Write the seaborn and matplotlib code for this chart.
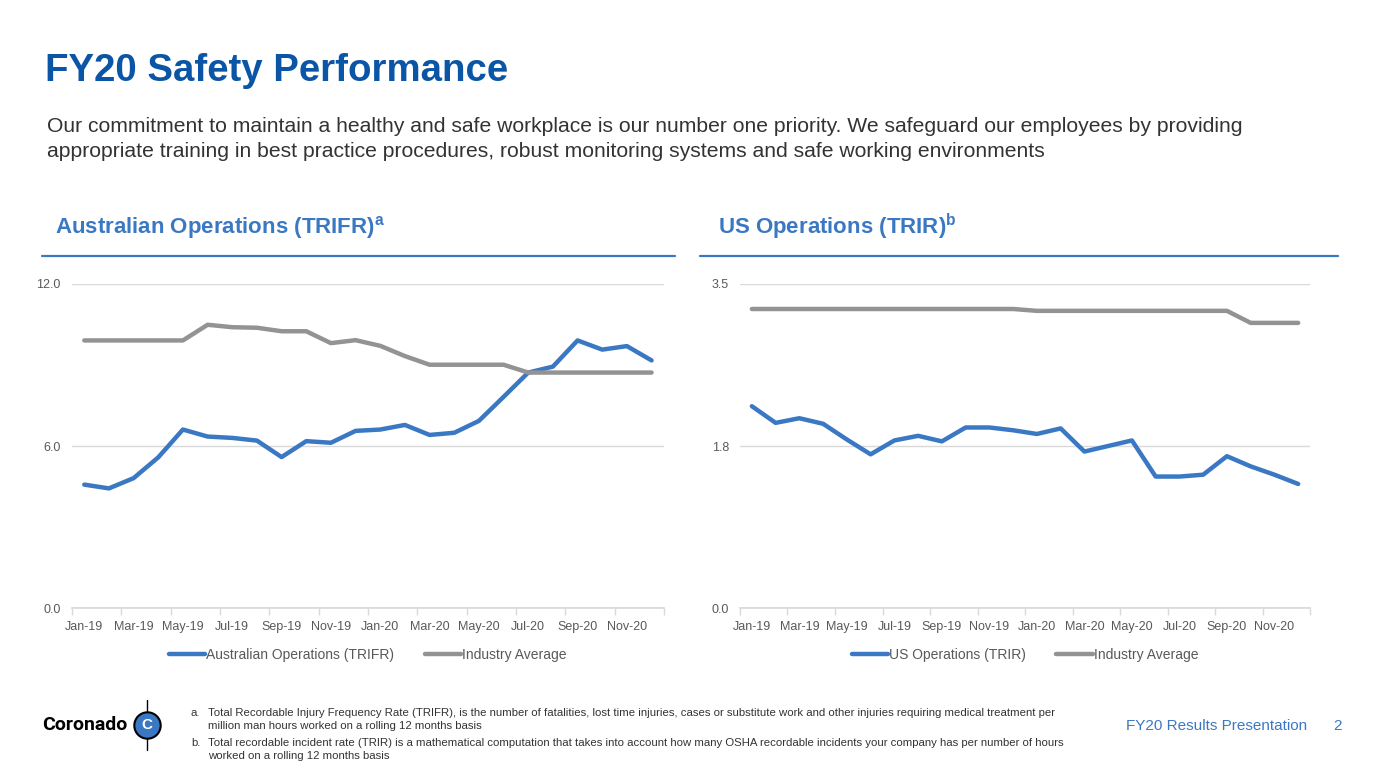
import pandas as pd
import seaborn as sns
import matplotlib.pyplot as plt
from matplotlib.lines import Line2D

# Monthly rolling 12-month rates
months = ['Jan-19', 'Feb-19', 'Mar-19', 'Apr-19', 'May-19', 'Jun-19', 'Jul-19', 'Aug-19',
          'Sep-19', 'Oct-19', 'Nov-19', 'Dec-19', 'Jan-20', 'Feb-20', 'Mar-20', 'Apr-20',
          'May-20', 'Jun-20', 'Jul-20', 'Aug-20', 'Sep-20', 'Oct-20', 'Nov-20', 'Dec-20']

aus_trifr = [4.57, 4.43, 4.81, 5.58, 6.61, 6.35, 6.30, 6.20, 5.59, 6.18, 6.12, 6.56,
             6.61, 6.78, 6.41, 6.49, 6.93, 7.82, 8.72, 8.94, 9.91, 9.57, 9.70, 9.17]
aus_industry = [9.91, 9.91, 9.91, 9.91, 9.91, 10.49, 10.40, 10.38, 10.25, 10.25, 9.81, 9.92,
                9.71, 9.33, 9.01, 9.01, 9.01, 9.01, 8.72, 8.72, 8.72, 8.72, 8.72, 8.72]

us_trir = [2.18, 2.00, 2.05, 1.99, 1.82, 1.66, 1.81, 1.86, 1.80, 1.95, 1.95, 1.92,
           1.88, 1.94, 1.69, 1.75, 1.81, 1.42, 1.42, 1.44, 1.64, 1.53, 1.44, 1.34]
us_industry = [3.23, 3.23, 3.23, 3.23, 3.23, 3.23, 3.23, 3.23, 3.23, 3.23, 3.23, 3.23,
               3.21, 3.21, 3.21, 3.21, 3.21, 3.21, 3.21, 3.21, 3.21, 3.08, 3.08, 3.08]

aus_ticks = [0.0, 6.0, 12.0]
aus_tick_labels = ['0.0', '6.0', '12.0']
us_ticks = [0.0, 1.75, 3.5]
us_tick_labels = ['0.0', '1.8', '3.5']

BLUE = '#3a78c3'
DARK_BLUE = '#0b55a6'
GREY = '#939393'
TEXT = '#595959'

sns.set_theme(style='white')
plt.rcParams['font.family'] = ['Liberation Sans', 'DejaVu Sans']

fig = plt.figure(figsize=(13.86, 7.8), dpi=100)


def draw_panel(ax, ops, industry, ops_name, yticks, ylabels):
    df = pd.DataFrame({'Month': months * 2,
                       'Rate': ops + industry,
                       'Series': [ops_name] * len(months) + ['Industry Average'] * len(months)})
    sns.lineplot(data=df, x='Month', y='Rate', hue='Series', sort=False,
                 palette={ops_name: BLUE, 'Industry Average': GREY},
                 linewidth=3.2, ax=ax, legend=False)
    ax.set_xlim(-0.5, len(months) - 0.5)
    ax.set_ylim(yticks[0], yticks[-1])
    ax.set_yticks(yticks)
    ax.set_yticklabels(ylabels)
    ax.set_xticks(range(0, len(months), 2))
    ax.set_xticklabels(months[::2])
    ax.set_xticks([i - 0.5 for i in range(0, len(months) + 1, 2)], minor=True)
    ax.tick_params(axis='x', which='minor', length=5, color='#d9d9d9', direction='out', bottom=True)
    ax.tick_params(axis='x', which='major', length=0, pad=9, labelsize=9, labelcolor=TEXT)
    ax.tick_params(axis='y', length=0, pad=8, labelsize=9, labelcolor=TEXT)
    ax.set_xlabel('')
    ax.set_ylabel('')
    ax.grid(axis='y', color='#d9d9d9', linewidth=1)
    for s in ['top', 'right', 'left']:
        ax.spines[s].set_visible(False)
    ax.spines['bottom'].set_color('#d9d9d9')
    handles = [Line2D([], [], color=BLUE, linewidth=3.2),
               Line2D([], [], color=GREY, linewidth=3.2)]
    ax.legend(handles, [ops_name, 'Industry Average'], loc='upper center',
              bbox_to_anchor=(0.5, -0.085), ncol=2, frameon=False, fontsize=10,
              labelcolor=TEXT, handlelength=2.6, handletextpad=0.1, columnspacing=2.2)


ax1 = fig.add_axes([0.0519, 0.2205, 0.4271, 0.4154])
draw_panel(ax1, aus_trifr, aus_industry, 'Australian Operations (TRIFR)', aus_ticks, aus_tick_labels)
ax2 = fig.add_axes([0.5339, 0.2205, 0.4113, 0.4154])
draw_panel(ax2, us_trir, us_industry, 'US Operations (TRIR)', us_ticks, us_tick_labels)

# Headings and text
fig.text(45 / 1386, 1 - 71 / 780, 'FY20 Safety Performance', fontsize=27.6, fontweight='bold',
         color=DARK_BLUE, va='center', ha='left')
fig.text(47 / 1386, 1 - 139 / 780,
         'Our commitment to maintain a healthy and safe workplace is our number one priority. '
         'We safeguard our employees by providing\nappropriate training in best practice procedures, '
         'robust monitoring systems and safe working environments',
         fontsize=15.2, color='#333333', va='center', ha='left', linespacing=1.45)
fig.text(55 / 1386, 1 - 227 / 780, r'Australian Operations (TRIFR)$^{\mathregular{a}}$',
         fontsize=16, fontweight='bold', color=BLUE, va='center', ha='left')
fig.text(718 / 1386, 1 - 227 / 780, r'US Operations (TRIR)$^{\mathregular{b}}$',
         fontsize=16, fontweight='bold', color=BLUE, va='center', ha='left')
fig.add_artist(Line2D([42 / 1386, 675 / 1386], [1 - 256 / 780] * 2, color=BLUE, linewidth=1.6))
fig.add_artist(Line2D([700 / 1386, 1338 / 1386], [1 - 256 / 780] * 2, color=BLUE, linewidth=1.6))

# Footnotes
notes = [('a.', 'Total Recordable Injury Frequency Rate (TRIFR), is the number of fatalities, lost time injuries, '
                'cases or substitute work and other injuries requiring medical treatment per\nmillion man hours '
                'worked on a rolling 12 months basis'),
         ('b.', 'Total recordable incident rate (TRIR) is a mathematical computation that takes into account how '
                'many OSHA recordable incidents your company has per number of hours\nworked on a rolling 12 months basis')]
for i, (mark, note) in enumerate(notes):
    fig.text(191 / 1386, 1 - (713 + i * 30) / 780, mark, fontsize=8.2, color='#333333', va='center')
    fig.text(208 / 1386, 1 - (719.5 + i * 30) / 780, note, fontsize=8.2, color='#333333',
             va='center', linespacing=1.45)

fig.text(1307 / 1386, 1 - 726 / 780, 'FY20 Results Presentation', fontsize=11, color=BLUE,
         ha='right', va='center')
fig.text(1338 / 1386, 1 - 726 / 780, '2', fontsize=11, color=BLUE, ha='center', va='center')

# Logo approximation
fig.text(42 / 1386, 1 - 725 / 780, 'Coronado', fontsize=14, fontweight='bold', color='black',
         ha='left', va='center', family=['Roboto', 'DejaVu Sans'])
fig.add_artist(Line2D([147 / 1386] * 2, [1 - 700 / 780, 1 - 750 / 780], color='black', linewidth=1))
fig.add_artist(Line2D([147 / 1386], [1 - 725 / 780], marker='o', markersize=19,
                      markerfacecolor=BLUE, markeredgecolor='black', markeredgewidth=1.5))
fig.text(147 / 1386, 1 - 725 / 780, 'C', fontsize=11, fontweight='bold', color='white',
         ha='center', va='center')

fig.savefig('out.png', dpi=100)
